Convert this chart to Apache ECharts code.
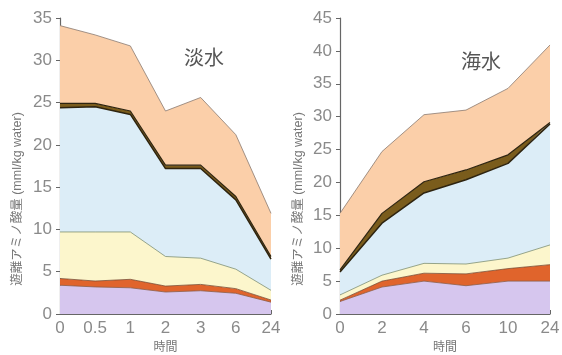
<!DOCTYPE html>
<html>
<head>
<meta charset="utf-8">
<script src="https://cdn.jsdelivr.net/npm/echarts@6/dist/echarts.min.js"></script>
<style>html,body{margin:0;padding:0;background:#fff}#c{width:562px;height:355px}</style>
</head>
<body>
<div id="c"></div>
<script>
// Freshwater (淡水)
const freshCats = ['0', '0.5', '1', '2', '3', '6', '24'];
const freshPurple = [3.4, 3.2, 3.1, 2.6, 2.75, 2.45, 1.4];
const freshOrange = [0.8, 0.7, 1.0, 0.7, 0.75, 0.55, 0.25];
const freshYellow = [5.5, 5.8, 5.6, 3.5, 3.1, 2.3, 1.15];
const freshBlue = [14.7, 14.8, 13.9, 10.4, 10.6, 8.2, 3.7];
const freshDark = [0.5, 0.4, 0.4, 0.4, 0.4, 0.4, 0.3];
const freshPeach = [9.2, 8.1, 7.7, 6.4, 8.0, 7.3, 5.1];
// Seawater (海水)
const seaCats = ['0', '2', '4', '6', '10', '24'];
const seaPurple = [1.9, 4.1, 5.0, 4.3, 5.0, 5.0];
const seaOrange = [0.2, 0.9, 1.2, 1.8, 1.9, 2.5];
const seaYellow = [0.8, 0.9, 1.5, 1.5, 1.6, 3.0];
const seaBlue = [3.5, 7.9, 10.7, 12.8, 14.4, 18.4];
const seaDark = [0.3, 1.5, 1.7, 1.5, 1.3, 0.2];
const seaPeach = [8.6, 9.4, 10.2, 9.1, 10.1, 11.8];

const yName = '遊離アミノ酸量 (mml/kg water)';
const colors = {
  purple: '#d6c6ee', orange: '#e0642c', yellow: '#fcf6cc',
  blue: '#dcedf7', dark: '#7a5c1c', peach: '#fbcfa9'
};
const font = '"Liberation Sans", "Noto Sans CJK JP", sans-serif';

function layer(name, data, color, idx, lineColor, lw) {
  return {
    type: 'line', name: name, data: data, stack: 's' + idx,
    xAxisIndex: idx, yAxisIndex: idx, symbol: 'none',
    areaStyle: { color: color, opacity: 1 },
    lineStyle: { color: lineColor, width: lw },
    z: 2
  };
}
function layers(idx, p, o, y, b, d, pe) {
  return [
    layer('purple', p, colors.purple, idx, '#8a5a48', 0.8),
    layer('orange', o, colors.orange, idx, '#7a4a30', 0.8),
    layer('yellow', y, colors.yellow, idx, '#7f8f70', 0.8),
    layer('blue', b, colors.blue, idx, '#2e2410', 1.5),
    layer('dark', d, colors.dark, idx, '#2e2410', 1.2),
    layer('peach', pe, colors.peach, idx, '#8a7a70', 0.8)
  ];
}
function xAxis(idx, cats) {
  return {
    type: 'category', gridIndex: idx, data: cats, boundaryGap: false,
    axisLine: { lineStyle: { color: '#666', width: 1.2 } },
    axisTick: { inside: true, length: 4, lineStyle: { color: '#666' } },
    axisLabel: { color: '#8a8a8a', fontSize: 17, fontFamily: font, margin: 6 },
    name: '時間', nameLocation: 'middle', nameGap: 28,
    nameTextStyle: { color: '#777', fontSize: 12, fontFamily: font }
  };
}
function yAxis(idx, max) {
  return {
    type: 'value', gridIndex: idx, min: 0, max: max, interval: 5,
    splitLine: { show: false },
    axisLine: { show: true, lineStyle: { color: '#666', width: 1.2 } },
    axisTick: { show: true, length: 4, lineStyle: { color: '#666' } },
    axisLabel: { color: '#8a8a8a', fontSize: 17, fontFamily: font, margin: 8 }
  };
}
function yTitle(x) {
  return {
    type: 'text', x: x, y: 199, rotation: Math.PI / 2,
    style: { text: yName, fontSize: 12.5, fill: '#777', fontFamily: font, align: 'center', verticalAlign: 'middle' }
  };
}

const chart = echarts.init(document.getElementById('c'), null, { renderer: 'canvas' });
chart.setOption({
  backgroundColor: '#fff',
  animation: false,
  grid: [
    { left: 60, right: 291, top: 18, bottom: 41, containLabel: false, outerBoundsMode: 'none' },
    { left: 340, right: 12, top: 18, bottom: 41, containLabel: false, outerBoundsMode: 'none' }
  ],
  xAxis: [xAxis(0, freshCats), xAxis(1, seaCats)],
  yAxis: [yAxis(0, 35), yAxis(1, 45)],
  graphic: [
    { type: 'text', left: 184, top: 49, style: { text: '淡水', fontSize: 20, fill: '#555', fontFamily: font } },
    { type: 'text', left: 461, top: 53, style: { text: '海水', fontSize: 20, fill: '#555', fontFamily: font } },
    yTitle(18),
    yTitle(299)
  ],
  series: [].concat(
    layers(0, freshPurple, freshOrange, freshYellow, freshBlue, freshDark, freshPeach),
    layers(1, seaPurple, seaOrange, seaYellow, seaBlue, seaDark, seaPeach)
  )
});
</script>
</body>
</html>
